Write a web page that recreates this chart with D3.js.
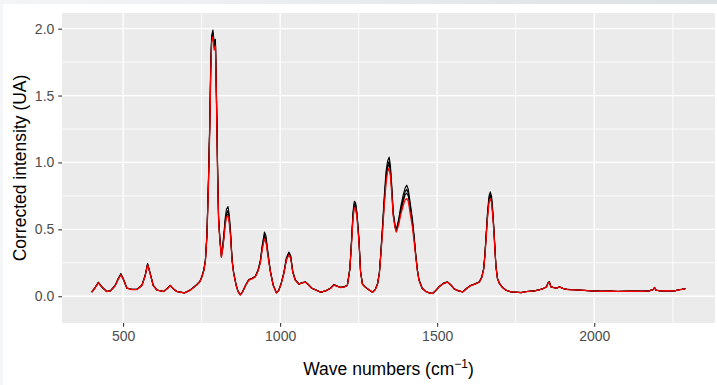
<!DOCTYPE html>
<html>
<head>
<meta charset="utf-8">
<script src="https://cdn.jsdelivr.net/npm/d3@7"></script>
<style>
  html, body { margin: 0; padding: 0; background: #ffffff; }
  svg { display: block; font-family: Arial, "Liberation Sans", sans-serif; }
</style>
</head>
<body>
<svg id="chart" width="717" height="385"></svg>
<script>
// ---------------- data ----------------
const waveNumbers = [
  400,410,421,432,448,460,475,485,493,500,512,
  528,544,560,570,578,586,596,608,629,642,
  650,660,671,695,710,719,735,745,751,757,
  762,767,772,776,779,782,786,790,794,798,
  801,804,808,813,817,821,825,829,834,838,
  842,847,852,860,866,873,880,890,900,910,
  921,930,937,943,950,955,960,965,969,978,
  988,995,1003,1012,1020,1028,1034,1040,1048,1060,
  1070,1081,1090,1100,1115,1129,1145,1161,1171,1180,
  1193,1205,1214,1222,1227,1232,1236,1240,1245,1251,
  1256,1262,1270,1278,1294,1303,1310,1316,1320,1326,
  1331,1337,1342,1347,1351,1355,1360,1366,1370,1377,
  1384,1392,1398,1403,1408,1414,1421,1427,1432,1437,
  1442,1452,1464,1475,1485,1495,1506,1520,1533,1545,
  1554,1568,1581,1595,1607,1620,1634,1642,1648,1652,
  1656,1660,1665,1669,1673,1677,1680,1684,1687,1692,
  1698,1708,1719,1735,1751,1767,1785,1810,1825,1836,
  1848,1853,1857,1862,1870,1880,1889,1900,1916,1935,
  1958,1990,2022,2050,2075,2100,2125,2150,2175,2188,
  2192,2197,2210,2230,2256,2270,2280,2290
];

// red spectrum
const spectrumRed = [
  .03,.06,.10,.07,.035,.04,.08,.13,.16,.13,.06,
  .05,.05,.08,.15,.235,.17,.08,.045,.035,.06,
  .08,.055,.035,.025,.04,.055,.085,.11,.145,.19,
  .26,.45,.85,1.25,1.65,1.9,1.94,1.84,1.87,1.35,
  .9,.57,.42,.29,.35,.43,.53,.59,.60,.55,
  .45,.26,.17,.08,.035,.01,.03,.08,.12,.13,
  .145,.19,.25,.35,.43,.40,.32,.24,.18,.08,
  .025,.04,.09,.17,.27,.31,.28,.18,.12,.09,
  .10,.105,.085,.06,.045,.03,.04,.06,.085,.075,
  .065,.07,.08,.20,.38,.58,.66,.66,.58,.40,
  .18,.09,.07,.055,.03,.05,.09,.17,.29,.48,
  .66,.84,.93,.96,.90,.78,.60,.51,.48,.53,
  .61,.68,.72,.73,.71,.62,.52,.40,.29,.19,
  .12,.06,.035,.025,.02,.04,.07,.095,.105,.08,
  .055,.04,.032,.06,.08,.09,.105,.14,.20,.30,
  .44,.58,.70,.73,.70,.60,.50,.34,.22,.13,
  .095,.065,.045,.032,.03,.027,.035,.04,.048,.055,
  .07,.10,.105,.07,.065,.06,.07,.058,.05,.048,
  .045,.04,.037,.038,.036,.037,.038,.037,.04,.05,
  .065,.045,.04,.042,.04,.048,.052,.057
];

// black spectra
const spectrumBlackA = [
  .032,.062,.105,.072,.036,.042,.083,.135,.17,.135,.062,
  .052,.052,.083,.155,.245,.175,.082,.047,.036,.062,
  .082,.056,.036,.026,.042,.057,.088,.115,.15,.20,
  .27,.47,.9,1.32,1.75,1.95,1.99,1.9,1.92,1.42,
  .95,.6,.44,.31,.38,.47,.58,.65,.67,.61,
  .49,.28,.18,.085,.037,.012,.032,.083,.125,.135,
  .15,.2,.27,.38,.48,.45,.35,.26,.19,.085,
  .027,.042,.095,.18,.29,.33,.30,.19,.125,.092,
  .102,.108,.088,.062,.046,.031,.041,.062,.088,.078,
  .067,.072,.083,.21,.41,.63,.71,.70,.62,.43,
  .19,.093,.072,.057,.031,.052,.093,.18,.31,.53,
  .73,.93,1.01,1.04,.98,.84,.63,.53,.50,.57,
  .67,.76,.81,.83,.80,.70,.58,.44,.31,.2,
  .125,.062,.036,.026,.021,.042,.072,.098,.108,.082,
  .056,.041,.033,.062,.082,.093,.108,.145,.21,.32,
  .47,.62,.75,.78,.75,.64,.53,.36,.23,.135,
  .098,.067,.046,.033,.031,.028,.036,.041,.049,.056,
  .071,.10,.11,.072,.066,.061,.071,.059,.051,.049,
  .046,.041,.038,.039,.037,.038,.039,.038,.041,.05,
  .062,.046,.041,.043,.041,.049,.053,.058
];
const spectrumBlackB = [
  .031,.061,.103,.071,.035,.041,.082,.133,.165,.132,.061,
  .051,.051,.082,.152,.24,.172,.081,.046,.035,.061,
  .081,.055,.035,.025,.041,.056,.086,.112,.148,.195,
  .265,.46,.88,1.29,1.7,1.93,1.97,1.87,1.9,1.38,
  .92,.58,.43,.30,.36,.45,.56,.62,.64,.58,
  .47,.27,.175,.082,.036,.011,.031,.082,.122,.132,
  .148,.195,.26,.37,.46,.43,.34,.25,.185,.082,
  .026,.041,.092,.175,.28,.32,.29,.185,.122,.091,
  .101,.106,.086,.061,.045,.03,.04,.061,.086,.076,
  .066,.071,.082,.205,.40,.61,.69,.69,.60,.42,
  .185,.092,.071,.056,.03,.051,.092,.175,.30,.51,
  .70,.89,.98,1.01,.95,.82,.62,.52,.49,.56,
  .65,.73,.78,.80,.77,.68,.56,.43,.30,.195,
  .122,.061,.035,.025,.02,.041,.071,.096,.106,.081,
  .055,.04,.032,.061,.081,.091,.106,.142,.205,.31,
  .455,.60,.73,.76,.73,.62,.52,.35,.225,.132,
  .096,.066,.045,.032,.03,.027,.035,.04,.048,.055,
  .07,.102,.108,.071,.065,.06,.07,.058,.05,.048,
  .045,.04,.037,.038,.036,.037,.038,.037,.04,.051,
  .066,.045,.04,.042,.04,.048,.052,.057
];
const spectrumBlackC = [
  .03,.06,.101,.07,.035,.04,.08,.131,.162,.131,.06,
  .05,.05,.08,.151,.238,.171,.08,.045,.035,.06,
  .08,.055,.035,.025,.04,.055,.085,.11,.146,.192,
  .262,.455,.86,1.27,1.68,1.92,1.96,1.86,1.89,1.37,
  .91,.575,.425,.295,.355,.44,.545,.605,.615,.565,
  .46,.265,.172,.081,.035,.01,.03,.08,.121,.131,
  .146,.192,.255,.36,.445,.415,.33,.245,.182,.081,
  .025,.04,.091,.172,.275,.315,.285,.182,.121,.09,
  .10,.105,.085,.06,.045,.03,.04,.06,.085,.075,
  .065,.07,.081,.202,.39,.595,.675,.675,.59,.41,
  .182,.091,.07,.055,.03,.05,.091,.172,.295,.495,
  .68,.87,.96,.99,.93,.80,.61,.515,.485,.545,
  .63,.71,.76,.77,.75,.66,.55,.42,.295,.192,
  .121,.06,.035,.025,.02,.04,.07,.095,.105,.08,
  .055,.04,.032,.06,.08,.09,.105,.141,.202,.305,
  .45,.59,.72,.75,.72,.61,.51,.345,.222,.131,
  .095,.065,.045,.032,.03,.027,.035,.04,.048,.055,
  .07,.10,.105,.07,.065,.06,.07,.058,.05,.048,
  .045,.04,.037,.038,.036,.037,.038,.037,.04,.05,
  .065,.045,.04,.042,.04,.048,.052,.057
];

const xTicks = [500, 1000, 1500, 2000];
const xMinorTicks = [750, 1250, 1750, 2250];
const yTicks = [0, 0.5, 1.0, 1.5, 2.0];
const yMinorTicks = [0.25, 0.75, 1.25, 1.75];
const xTitle = "Wave numbers (cm";
const yTitle = "Corrected intensity (UA)";

// ---------------- layout ----------------
const W = 717, H = 385;
const panel = { left: 62, right: 715, top: 13, bottom: 323 };

const svg = d3.select("#chart");

// screenshot-like frame
const defs = svg.append("defs");
const grad = defs.append("linearGradient").attr("id", "topg").attr("x1", 0).attr("x2", 1);
grad.append("stop").attr("offset", "0%").attr("stop-color", "#f4f5f7");
grad.append("stop").attr("offset", "100%").attr("stop-color", "#dce1e6");
svg.append("rect").attr("x", 0).attr("y", 0).attr("width", W).attr("height", H).attr("fill", "#f5f6f8");
svg.append("rect").attr("x", 3).attr("y", 4).attr("width", W - 3).attr("height", H - 4).attr("fill", "#ffffff");
svg.append("rect").attr("x", 0).attr("y", 0).attr("width", W).attr("height", 4).attr("fill", "url(#topg)");

const x = d3.scaleLinear().domain([305.5, 2384.5]).range([panel.left, panel.right]);
const y = d3.scaleLinear().domain([-0.2, 2.117]).range([panel.bottom, panel.top]);

svg.append("rect")
  .attr("x", panel.left).attr("y", panel.top)
  .attr("width", panel.right - panel.left).attr("height", panel.bottom - panel.top)
  .attr("fill", "#EBEBEB");

const grid = svg.append("g");
grid.selectAll("line.xminor").data(xMinorTicks).join("line")
  .attr("x1", d => x(d)).attr("x2", d => x(d))
  .attr("y1", panel.top).attr("y2", panel.bottom)
  .attr("stroke", "#fff").attr("stroke-width", 0.8);
grid.selectAll("line.yminor").data(yMinorTicks).join("line")
  .attr("y1", d => y(d)).attr("y2", d => y(d))
  .attr("x1", panel.left).attr("x2", panel.right)
  .attr("stroke", "#fff").attr("stroke-width", 0.8);
grid.selectAll("line.xmajor").data(xTicks).join("line")
  .attr("x1", d => x(d)).attr("x2", d => x(d))
  .attr("y1", panel.top).attr("y2", panel.bottom)
  .attr("stroke", "#fff").attr("stroke-width", 1.3);
grid.selectAll("line.ymajor").data(yTicks).join("line")
  .attr("y1", d => y(d)).attr("y2", d => y(d))
  .attr("x1", panel.left).attr("x2", panel.right)
  .attr("stroke", "#fff").attr("stroke-width", 1.3);

// lines
const line = d3.line().x(d => x(d[0])).y(d => y(d[1]));
const toPts = arr => waveNumbers.map((w, i) => [w, arr[i]]);

const blackSeries = [spectrumBlackA, spectrumBlackB, spectrumBlackC];
svg.append("g").selectAll("path").data(blackSeries).join("path")
  .attr("d", s => line(toPts(s)))
  .attr("fill", "none").attr("stroke", "#000").attr("stroke-width", 1.1)
  .attr("stroke-linejoin", "round");

svg.append("path")
  .attr("d", line(toPts(spectrumRed)))
  .attr("fill", "none").attr("stroke", "#FF0000").attr("stroke-width", 1.25)
  .attr("stroke-linejoin", "round");

// axes
const xAxis = d3.axisBottom(x).tickValues(xTicks).tickSize(3.7).tickPadding(4)
  .tickFormat(d3.format("d"));
const gx = svg.append("g").attr("transform", `translate(0,${panel.bottom})`).call(xAxis);
gx.select(".domain").remove();
gx.selectAll(".tick line").attr("stroke", "#333333").attr("stroke-width", 1.1);
gx.selectAll(".tick text").attr("fill", "#4D4D4D").attr("font-size", 14)
  .attr("font-family", "Arial, 'Liberation Sans', sans-serif");

const yAxis = d3.axisLeft(y).tickValues(yTicks).tickSize(3.7).tickPadding(4)
  .tickFormat(d3.format(".1f"));
const gy = svg.append("g").attr("transform", `translate(${panel.left},0)`).call(yAxis);
gy.select(".domain").remove();
gy.selectAll(".tick line").attr("stroke", "#333333").attr("stroke-width", 1.1);
gy.selectAll(".tick text").attr("fill", "#4D4D4D").attr("font-size", 14)
  .attr("font-family", "Arial, 'Liberation Sans', sans-serif");

// axis titles
const xt = svg.append("text")
  .attr("x", (panel.left + panel.right) / 2).attr("y", 375)
  .attr("text-anchor", "middle").attr("font-size", 17.5).attr("fill", "#000");
xt.append("tspan").text(xTitle);
xt.append("tspan").attr("dy", -7).attr("font-size", 12).text("\u22121");
xt.append("tspan").attr("dy", 7).text(")");

svg.append("text")
  .attr("transform", `translate(26,${(panel.top + panel.bottom) / 2}) rotate(-90)`)
  .attr("text-anchor", "middle").attr("font-size", 17.5).attr("fill", "#000")
  .text(yTitle);
</script>
</body>
</html>
